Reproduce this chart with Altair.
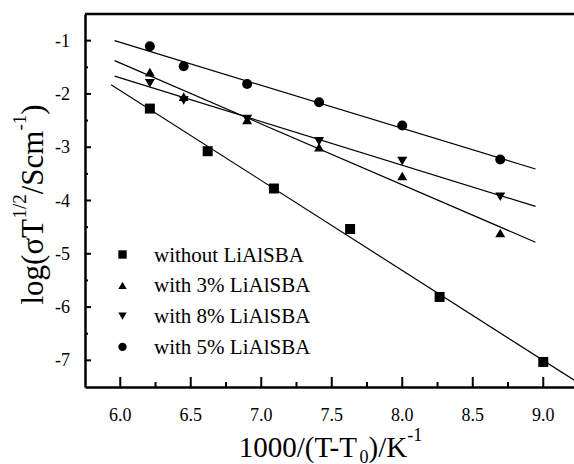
import altair as alt
import pandas as pd

# ---------------- data ----------------
series_names = ["without LiAlSBA", "with 3% LiAlSBA", "with 8% LiAlSBA", "with 5% LiAlSBA"]
series_shapes = ["square", "triangle-up", "triangle-down", "circle"]

x_without = [6.21, 6.62, 7.09, 7.63, 8.265, 9.0]
y_without = [-2.275, -3.075, -3.775, -4.535, -5.81, -7.03]

x_3 = [6.21, 6.45, 6.90, 7.41, 8.00, 8.695]
y_3 = [-1.59, -2.05, -2.49, -3.00, -3.54, -4.61]

x_8 = [6.21, 6.45, 6.90, 7.41, 8.00, 8.695]
y_8 = [-1.80, -2.12, -2.47, -2.89, -3.26, -3.93]

x_5 = [6.21, 6.45, 6.90, 7.41, 8.00, 8.695]
y_5 = [-1.107, -1.48, -1.815, -2.155, -2.592, -3.23]

x_major_ticks = [6.0, 6.5, 7.0, 7.5, 8.0, 8.5, 9.0]
x_tick_labels = ["6.0", "6.5", "7.0", "7.5", "8.0", "8.5", "9.0"]
x_minor_ticks = [6.25, 6.75, 7.25, 7.75, 8.25, 8.75]
y_major_ticks = [-1, -2, -3, -4, -5, -6, -7]
y_tick_labels = ["-1", "-2", "-3", "-4", "-5", "-6", "-7"]
y_minor_ticks = [-1.5, -2.5, -3.5, -4.5, -5.5, -6.5]

fit_extent_main = [5.96, 8.945]
fit_extent_without = [5.935, 9.22]

# ---------------- layout ----------------
W, H = 489, 373
PAD = {"left": 85, "top": 14, "right": 0, "bottom": 77}
FONT = "Liberation Serif"

rows = []
for name, xs, ys in zip(series_names, [x_without, x_3, x_8, x_5], [y_without, y_3, y_8, y_5]):
    for a, b in zip(xs, ys):
        rows.append({"x": a, "y": b, "series": name})
df = pd.DataFrame(rows)

xscale = alt.Scale(domain=[5.75, 9.218], nice=False, zero=False)
yscale = alt.Scale(domain=[-7.5, -0.5], nice=False, zero=False)
shape_scale = alt.Scale(domain=series_names, range=series_shapes)

x_axis = alt.Axis(title=None, labels=False, ticks=False, tickSize=0, grid=False,
                  domainColor="black", domainWidth=2.5)
y_axis = alt.Axis(title=None, labels=False, ticks=False, tickSize=0, grid=False,
                  domainColor="black", domainWidth=2.5)

def X(field):
    return alt.X(field, scale=xscale, axis=x_axis)

def Y(field):
    return alt.Y(field, scale=yscale, axis=y_axis)

points = alt.Chart(df).mark_point(filled=True, size=100, opacity=1, color="black").encode(
    x=X("x:Q"), y=Y("y:Q"),
    shape=alt.Shape("series:N", scale=shape_scale, legend=None),
)

fit_main = alt.Chart(df).transform_filter(
    alt.datum.series != series_names[0]
).transform_regression("x", "y", groupby=["series"], extent=fit_extent_main).mark_line(
    color="black", strokeWidth=1.2
).encode(x=X("x:Q"), y=Y("y:Q"), detail="series:N")

fit_without = alt.Chart(df).transform_filter(
    alt.datum.series == series_names[0]
).transform_regression("x", "y", extent=fit_extent_without).mark_line(
    color="black", strokeWidth=1.2
).encode(x=X("x:Q"), y=Y("y:Q"))

def tick_rules(vals, channel, length, width):
    d = pd.DataFrame({"v": vals})
    c = alt.Chart(d).mark_rule(color="black", strokeWidth=width)
    if channel == "x":
        return c.encode(x=X("v:Q"), y=alt.value(H), y2=alt.value(H - length))
    return c.encode(y=Y("v:Q"), x=alt.value(0), x2=alt.value(length))

ticks = [
    tick_rules(x_major_ticks, "x", 10, 2),
    tick_rules(x_minor_ticks, "x", 5, 2),
    tick_rules(y_major_ticks, "y", 6, 2),
    tick_rules(y_minor_ticks, "y", 3, 2),
]

# tick labels as text marks placed through the scales
x_labels = alt.Chart(pd.DataFrame({"v": x_major_ticks, "t": x_tick_labels})).mark_text(
    font=FONT, fontSize=18, color="black", align="center", baseline="alphabetic"
).encode(x=X("v:Q"), y=alt.value(H + 34), text="t:N")

y_labels = alt.Chart(pd.DataFrame({"v": y_major_ticks, "t": y_tick_labels})).mark_text(
    font=FONT, fontSize=18, color="black", align="right", baseline="alphabetic", dy=6
).encode(y=Y("v:Q"), x=alt.value(-15), text="t:N")

top_frame = alt.Chart(pd.DataFrame({"k": [0]})).mark_rule(color="black", strokeWidth=2.5).encode(
    x=alt.value(0), x2=alt.value(W), y=alt.value(0)
)

# ---------------- legend (drawn in the plot's pixel space) ----------------
legend_layers = []
leg_sym_x, leg_text_x, leg_top, leg_step = 37.5, 69, 240.5, 30.8
for i, name in enumerate(series_names):
    row = pd.DataFrame({"series": [name]})
    yc = leg_top + i * leg_step
    legend_layers.append(
        alt.Chart(row).mark_point(filled=True, size=70, opacity=1, color="black").encode(
            x=alt.value(leg_sym_x), y=alt.value(yc),
            shape=alt.Shape("series:N", scale=shape_scale, legend=None))
    )
    legend_layers.append(
        alt.Chart(row).mark_text(font=FONT, fontSize=21, color="black", align="left",
                                 baseline="alphabetic").encode(
            x=alt.value(leg_text_x), y=alt.value(yc + 7), text="series:N")
    )

# ---------------- axis titles with sub/superscripts ----------------
CW = {"0": .5, "1": .5, "2": .5, "/": .278, "(": .333, ")": .333, "T": .611, "-": .333,
      "K": .722, "l": .278, "o": .5, "g": .5, "σ": .55, "S": .556, "c": .444, "m": .778}

def text_width(s, size):
    return sum(CW.get(ch, .5) for ch in s) * size

def seg(text, px, py, size, angle=0):
    props = dict(font=FONT, fontSize=size, align="left", baseline="alphabetic", color="black")
    if angle:
        props["angle"] = angle
    return alt.Chart(pd.DataFrame({"t": [text]})).mark_text(**props).encode(
        x=alt.value(px), y=alt.value(py), text="t:N")

# x title: 1000/(T-T_0)/K^-1
xt_main, xt_small = 29, 18
xt_parts = [("1000/(T-T", xt_main, 0), ("0", xt_small, 6), (")/K", xt_main, 0), ("-1", xt_small, -16)]
total = sum(text_width(t, s) for t, s, _ in xt_parts)
cx = 245.5 - total / 2
xbase = 443
title_layers = []
for t, s, dy in xt_parts:
    title_layers.append(seg(t, cx, xbase + dy, s))
    cx += text_width(t, s)

# y title: log(σT^{1/2}/Scm^{-1}) rotated
yt_main, yt_small = 31, 19
yt_parts = [("log(σT", yt_main, 0), ("1/2", yt_small, -17), ("/Scm", yt_main, 0),
            ("-1", yt_small, -17), (")", yt_main, 0)]
total = sum(text_width(t, s) for t, s, _ in yt_parts)
cy = 190.5 + total / 2
ybase = -42
for t, s, dx in yt_parts:
    title_layers.append(seg(t, ybase + dx, cy, s, angle=270))
    cy -= text_width(t, s)

chart = alt.layer(
    points, fit_main, fit_without, *ticks, x_labels, y_labels, top_frame,
    *legend_layers, *title_layers
).properties(
    width=W, height=H, padding=PAD, autosize=alt.AutoSizeParams(type="none")
).configure_view(stroke=None)

chart.save("out.html", embed_options={"renderer": "svg", "actions": False})
